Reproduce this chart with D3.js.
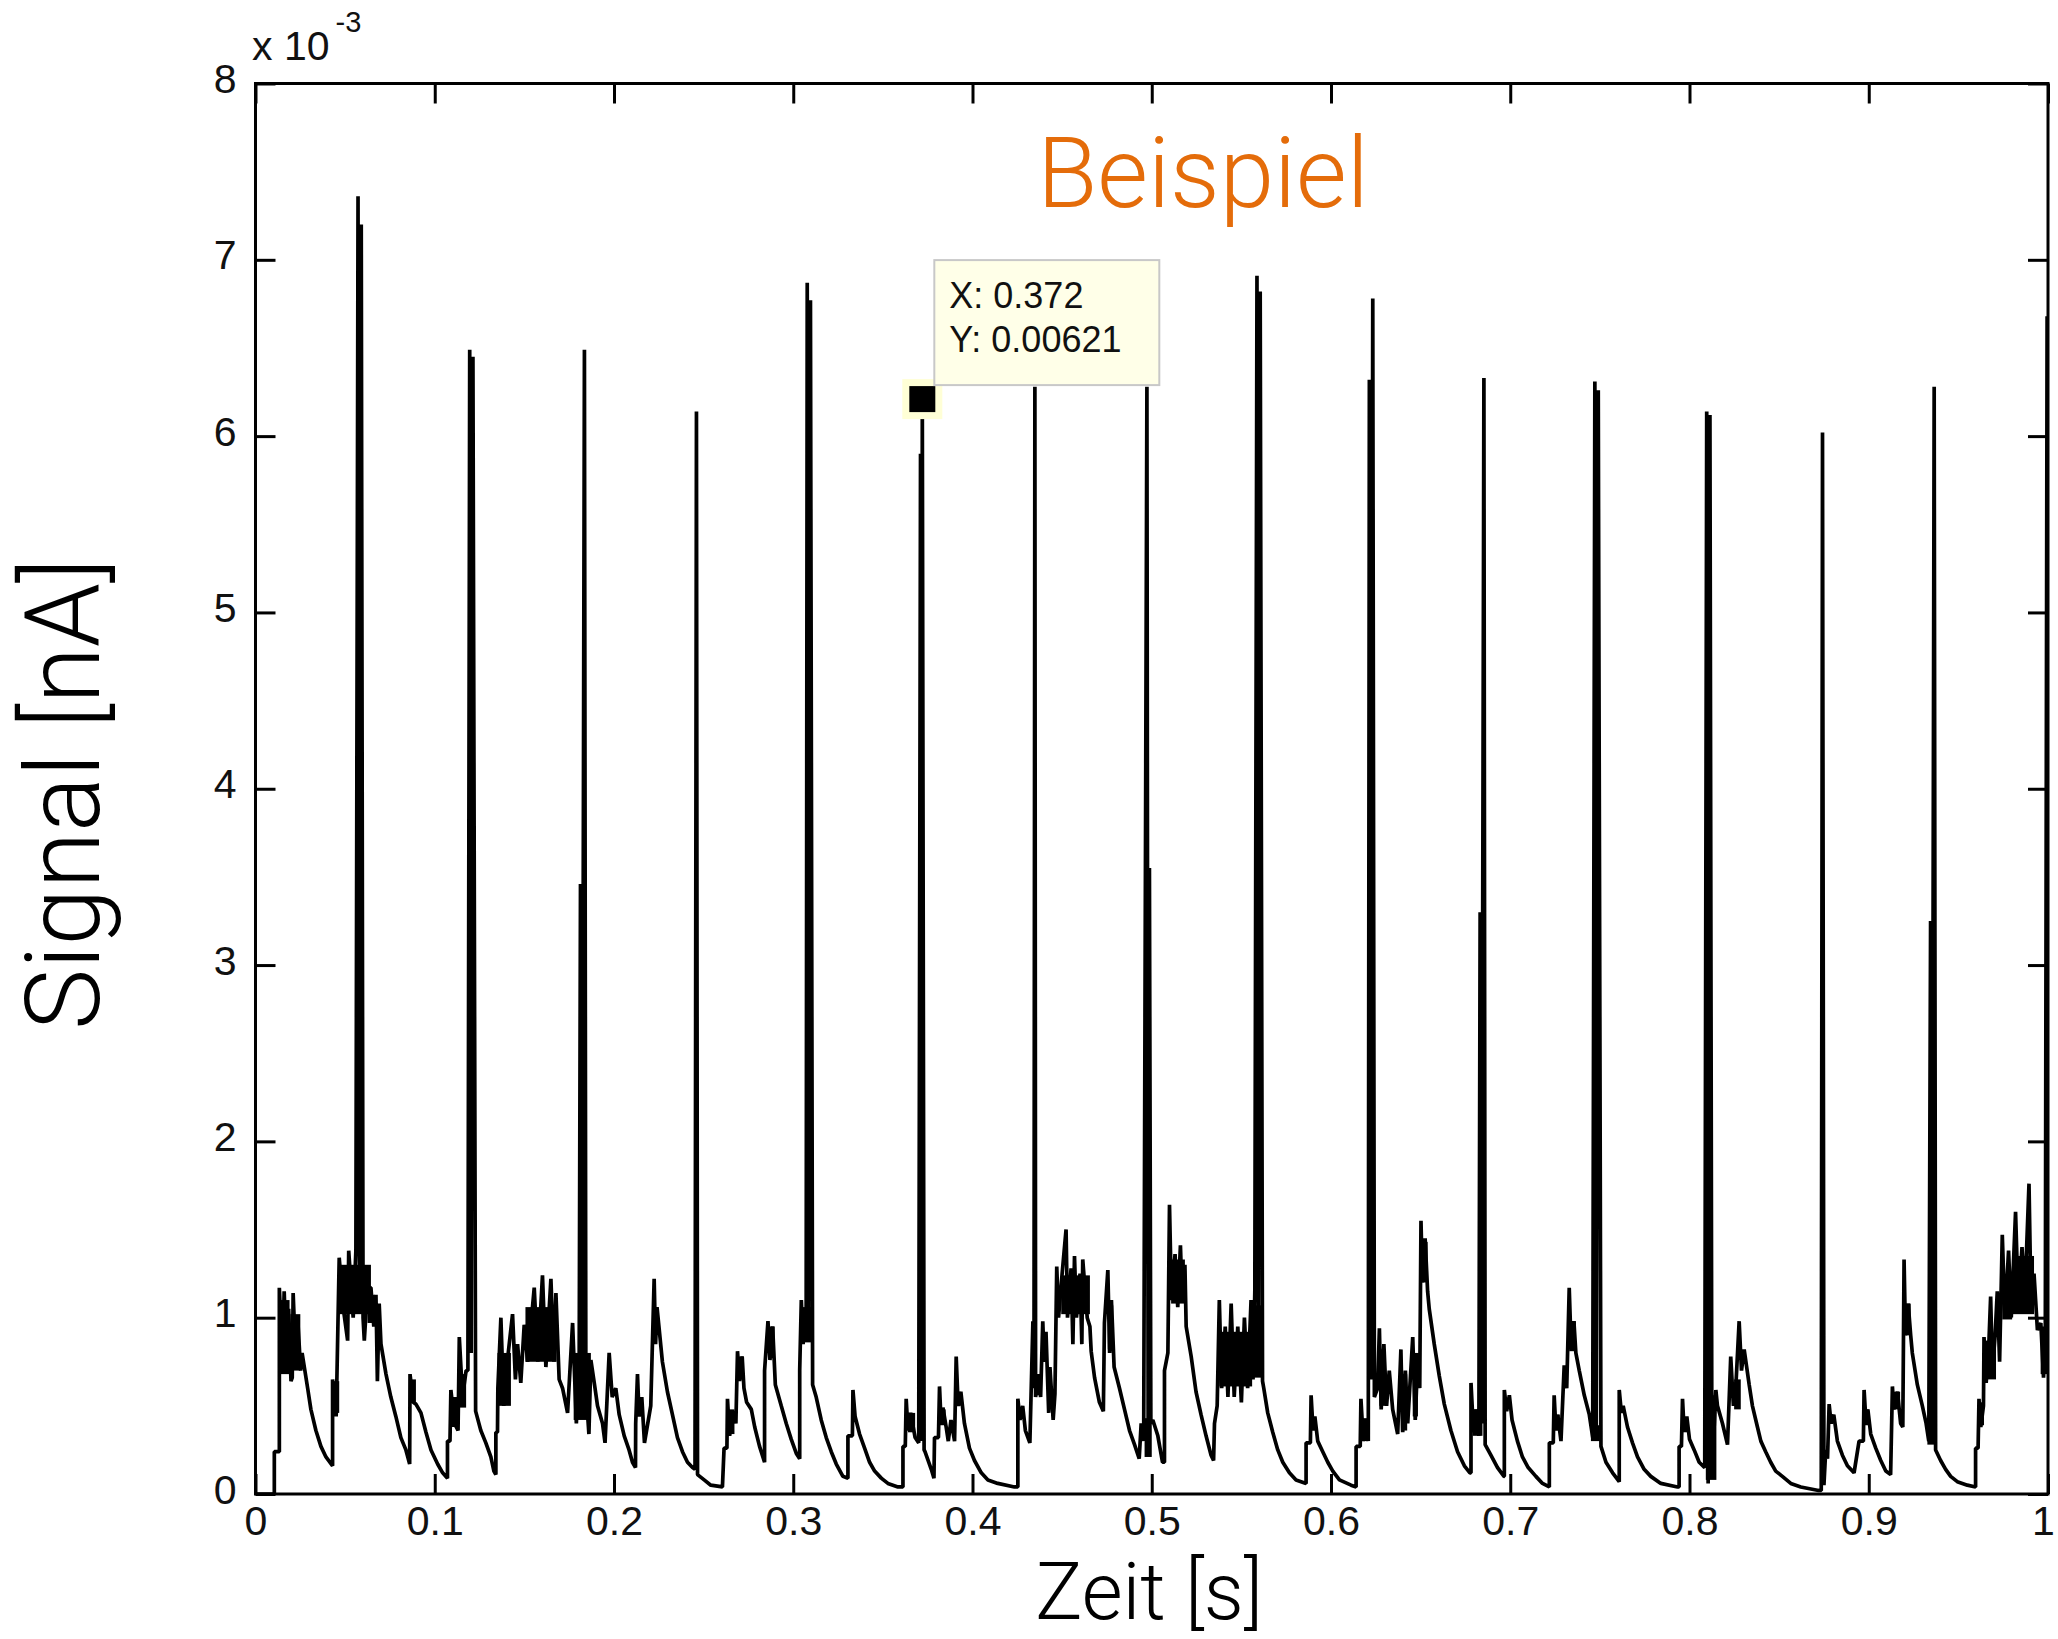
<!DOCTYPE html>
<html>
<head>
<meta charset="utf-8">
<script src="https://cdn.jsdelivr.net/npm/d3@7"></script>
<style>
  body { margin: 0; background: #fff; }
  .tick text { font-family: "Liberation Sans", Arial, sans-serif; font-size: 41px; fill: #111; }
  .tick line { stroke: #000; stroke-width: 3; }
</style>
</head>
<body>
<svg id="chart" width="2058" height="1639"></svg>
<script>
// axis ticks
const xTicks = [0, 0.1, 0.2, 0.3, 0.4, 0.5, 0.6, 0.7, 0.8, 0.9, 1];
const xTickLabels = ["0", "0.1", "0.2", "0.3", "0.4", "0.5", "0.6", "0.7", "0.8", "0.9", "1"];
const yTicks = [0, 1, 2, 3, 4, 5, 6, 7, 8];
const yTickLabels = ["0", "1", "2", "3", "4", "5", "6", "7", "8"];

// data tip
const tipX = 0.372;
const tipY = 0.00621;

// signal trace: [time s, signal x10^-3]
const trace = [
  [0, 0], [0.0105, 0], [0.0105, 0.24], [0.0133, 0.24], [0.0133, 1.17], [0.0150, 0.75], [0.0160, 1.15], [0.0175, 0.70], [0.0185, 1.05], [0.0198, 0.64], [0.0205, 0.66], [0.0210, 1.14], [0.0225, 0.75], [0.0235, 1.0], [0.0252, 0.70], [0.0260, 0.80], [0.0291, 0.60], [0.0309, 0.48], [0.0337, 0.36], [0.0365, 0.27], [0.0393, 0.21], [0.0430, 0.16],
  [0.0430, 0.65], [0.0450, 0.44], [0.0467, 1.34], [0.0490, 1.05], [0.0514, 0.87], [0.0520, 1.38], [0.0545, 1.0], [0.0560, 1.38], [0.0572, 7.36], [0.0580, 1.1], [0.0590, 7.20], [0.0600, 1.0], [0.0607, 0.87], [0.0625, 1.17], [0.0644, 1.17], [0.0660, 0.95], [0.0672, 1.13], [0.0680, 0.64], [0.0690, 1.08], [0.0700, 0.85], [0.0728, 0.68], [0.0755, 0.55], [0.0783, 0.44], [0.0811, 0.32], [0.0839, 0.25], [0.0860, 0.17],
  [0.0862, 0.68], [0.0880, 0.52], [0.0895, 0.51], [0.0923, 0.46], [0.0951, 0.35], [0.0979, 0.25], [0.1016, 0.17], [0.1044, 0.12], [0.1071, 0.09],
  [0.1071, 0.30], [0.1085, 0.30], [0.1090, 0.59], [0.1110, 0.40], [0.1130, 0.36], [0.1137, 0.89], [0.1155, 0.55], [0.1175, 0.70], [0.1185, 0.70], [0.1195, 6.49], [0.1203, 0.80], [0.1213, 6.45], [0.1228, 0.47], [0.1257, 0.36], [0.1285, 0.29], [0.1313, 0.21], [0.1330, 0.13], [0.1341, 0.11],
  [0.1341, 0.35], [0.1350, 0.35], [0.1352, 0.60], [0.1369, 1.0], [0.1385, 0.50], [0.1410, 0.80], [0.1434, 1.02], [0.1450, 0.65], [0.1462, 0.85], [0.1480, 0.63], [0.1499, 0.96], [0.1518, 0.75], [0.1555, 1.17], [0.1575, 0.75], [0.1601, 1.24], [0.1620, 0.72], [0.1648, 1.22], [0.1665, 0.75], [0.1676, 1.14], [0.1694, 0.65], [0.1713, 0.60], [0.1741, 0.46], [0.1769, 0.97], [0.1790, 0.40], [0.1806, 0.80], [0.1813, 3.46], [0.1822, 0.60], [0.1835, 6.49], [0.1843, 0.60], [0.1860, 0.34], [0.1871, 0.76], [0.1890, 0.63], [0.1908, 0.50], [0.1936, 0.40], [0.1950, 0.29], [0.1973, 0.80], [0.1990, 0.55], [0.2010, 0.60], [0.2029, 0.45], [0.2057, 0.33], [0.2084, 0.25], [0.2103, 0.18], [0.2120, 0.15],
  [0.2121, 0.40], [0.2131, 0.68], [0.2140, 0.44], [0.2155, 0.55], [0.2170, 0.29], [0.2205, 0.50], [0.2224, 1.22], [0.2232, 0.85], [0.2240, 1.06], [0.2270, 0.75], [0.2298, 0.58], [0.2326, 0.45], [0.2354, 0.32], [0.2382, 0.24], [0.2410, 0.18], [0.2438, 0.15], [0.2452, 0.14], [0.2460, 6.14], [0.2466, 0.11], [0.2503, 0.08], [0.2540, 0.05], [0.2605, 0.04],
  [0.2614, 0.26], [0.2630, 0.26], [0.2633, 0.54], [0.2645, 0.33], [0.2665, 0.47], [0.2680, 0.40], [0.2689, 0.81], [0.2700, 0.64], [0.2715, 0.78], [0.2725, 0.60], [0.2740, 0.52], [0.2766, 0.48], [0.2785, 0.38], [0.2812, 0.27], [0.2840, 0.18],
  [0.2840, 0.70], [0.2859, 0.98], [0.2870, 0.76], [0.2885, 0.95], [0.2900, 0.62], [0.2933, 0.50], [0.2961, 0.40], [0.2989, 0.31], [0.3017, 0.23], [0.3036, 0.20],
  [0.3036, 0.70], [0.3045, 1.10], [0.3055, 0.85], [0.3065, 1.05], [0.3072, 0.90], [0.3078, 6.87], [0.3086, 0.90], [0.3096, 6.77], [0.3108, 0.62], [0.3128, 0.55], [0.3156, 0.42], [0.3184, 0.32], [0.3212, 0.24], [0.3240, 0.17], [0.3277, 0.10], [0.3305, 0.09],
  [0.3305, 0.33], [0.3330, 0.33], [0.3333, 0.59], [0.3345, 0.44], [0.3370, 0.34], [0.3398, 0.26], [0.3426, 0.18], [0.3454, 0.13], [0.3491, 0.09], [0.3528, 0.06], [0.3584, 0.04], [0.3612, 0.04],
  [0.3612, 0.27], [0.3625, 0.27], [0.3630, 0.54], [0.3640, 0.36], [0.3655, 0.46], [0.3680, 0.32], [0.3700, 0.29], [0.3710, 5.90], [0.3715, 0.30], [0.3720, 6.21], [0.3730, 0.25], [0.3735, 0.24], [0.3770, 0.14], [0.3785, 0.09],
  [0.3788, 0.32], [0.3810, 0.32], [0.3816, 0.61], [0.3825, 0.40], [0.3835, 0.49], [0.3853, 0.38], [0.3865, 0.30], [0.3880, 0.42], [0.3900, 0.30], [0.3909, 0.78], [0.3920, 0.50], [0.3935, 0.58], [0.3955, 0.40], [0.3983, 0.26], [0.4011, 0.19], [0.4049, 0.12], [0.4086, 0.08], [0.4141, 0.06], [0.4234, 0.04], [0.4253, 0.04],
  [0.4253, 0.54], [0.4265, 0.42], [0.4280, 0.50], [0.4295, 0.36], [0.4320, 0.29], [0.4337, 0.98], [0.4343, 0.60], [0.4348, 6.28], [0.4352, 0.55], [0.4370, 0.68], [0.4380, 0.55], [0.4392, 0.98], [0.4400, 0.75], [0.4410, 0.92], [0.4425, 0.46], [0.4432, 0.72], [0.4450, 0.42], [0.4460, 0.57], [0.4465, 0.93], [0.4470, 1.29], [0.4480, 1.0], [0.4500, 1.25], [0.4522, 1.50], [0.4530, 1.0], [0.4550, 1.28], [0.4560, 0.85], [0.4569, 1.35], [0.4580, 1.0], [0.4600, 1.25], [0.4610, 0.85], [0.4615, 1.33], [0.4640, 1.0], [0.4655, 0.95], [0.4662, 0.81], [0.4681, 0.66], [0.4708, 0.52], [0.4730, 0.47], [0.4736, 0.97], [0.4755, 1.27], [0.4765, 0.80], [0.4775, 1.10], [0.4790, 0.72], [0.4820, 0.60], [0.4848, 0.48], [0.4876, 0.36], [0.4904, 0.28], [0.4930, 0.20], [0.4941, 0.40], [0.4955, 0.30], [0.4973, 6.28], [0.4980, 0.30], [0.4987, 3.55], [0.4995, 0.40], [0.5006, 0.42], [0.5034, 0.33], [0.5060, 0.18], [0.5071, 0.18],
  [0.5071, 0.70], [0.5090, 0.80], [0.5099, 1.64], [0.5110, 1.10], [0.5130, 1.36], [0.5145, 1.06], [0.5160, 1.41], [0.5170, 1.10], [0.5185, 1.30], [0.5192, 0.95], [0.5220, 0.78], [0.5247, 0.58], [0.5275, 0.45], [0.5303, 0.33], [0.5331, 0.22], [0.5345, 0.19],
  [0.5350, 0.40], [0.5365, 0.50], [0.5377, 1.10], [0.5390, 0.60], [0.5410, 0.95], [0.5425, 0.55], [0.5443, 1.08], [0.5460, 0.55], [0.5480, 0.95], [0.5500, 0.52], [0.5517, 1.00], [0.5535, 0.60], [0.5554, 1.10], [0.5565, 0.65], [0.5575, 1.15], [0.5587, 6.91], [0.5595, 0.70], [0.5605, 6.82], [0.5618, 0.64], [0.5625, 0.60], [0.5647, 0.46], [0.5675, 0.35], [0.5703, 0.25], [0.5731, 0.18], [0.5768, 0.12], [0.5805, 0.08], [0.5861, 0.06],
  [0.5861, 0.29], [0.5885, 0.29], [0.5889, 0.56], [0.5900, 0.36], [0.5910, 0.44], [0.5926, 0.30], [0.5954, 0.24], [0.5982, 0.18], [0.6010, 0.13], [0.6047, 0.08], [0.6112, 0.05], [0.6140, 0.04],
  [0.6140, 0.27], [0.6163, 0.27], [0.6167, 0.54], [0.6180, 0.30], [0.6195, 0.42], [0.6208, 0.30], [0.6214, 6.32], [0.6222, 0.65], [0.6233, 6.78], [0.6242, 0.55], [0.6260, 0.60], [0.6270, 0.94], [0.6280, 0.48], [0.6295, 0.85], [0.6310, 0.50], [0.6325, 0.70], [0.6344, 0.48], [0.6372, 0.34], [0.6390, 0.82], [0.6400, 0.35], [0.6415, 0.70], [0.6428, 0.40], [0.6456, 0.89], [0.6470, 0.42], [0.6485, 0.80], [0.6495, 0.60], [0.6502, 1.55], [0.6510, 1.20], [0.6525, 1.45], [0.6539, 1.15], [0.6548, 1.05], [0.6576, 0.85], [0.6604, 0.67], [0.6632, 0.51], [0.6669, 0.36], [0.6706, 0.24], [0.6744, 0.16], [0.6775, 0.12], [0.6781, 0.12],
  [0.6781, 0.63], [0.6795, 0.35], [0.6810, 0.48], [0.6825, 0.33], [0.6832, 3.30], [0.6840, 0.40], [0.6853, 6.33], [0.6860, 0.28], [0.6892, 0.22], [0.6929, 0.15], [0.6965, 0.10], [0.6967, 0.10],
  [0.6967, 0.59], [0.6980, 0.47], [0.6995, 0.56], [0.7010, 0.42], [0.7040, 0.30], [0.7068, 0.21], [0.7100, 0.15], [0.7143, 0.10], [0.7180, 0.06], [0.7218, 0.04],
  [0.7218, 0.29], [0.7240, 0.29], [0.7245, 0.56], [0.7255, 0.36], [0.7265, 0.45], [0.7283, 0.30], [0.7301, 0.73], [0.7315, 0.60], [0.7329, 1.17], [0.7340, 0.82], [0.7355, 0.98], [0.7366, 0.80], [0.7385, 0.70], [0.7413, 0.56], [0.7441, 0.45], [0.7460, 0.32], [0.7472, 6.31], [0.7480, 0.38], [0.7491, 6.26], [0.7506, 0.27], [0.7534, 0.18], [0.7571, 0.12], [0.7608, 0.07],
  [0.7608, 0.59], [0.7620, 0.46], [0.7630, 0.50], [0.7654, 0.38], [0.7682, 0.29], [0.7710, 0.21], [0.7747, 0.14], [0.7784, 0.10], [0.7840, 0.06], [0.7933, 0.04], [0.7942, 0.04],
  [0.7942, 0.27], [0.7955, 0.27], [0.7961, 0.54], [0.7970, 0.36], [0.7985, 0.44], [0.8000, 0.31], [0.8026, 0.25], [0.8054, 0.18], [0.8085, 0.15], [0.8096, 6.14], [0.8104, 0.06], [0.8114, 6.12], [0.8125, 0.10], [0.8147, 0.59], [0.8156, 0.50], [0.8184, 0.40], [0.8212, 0.28],
  [0.8230, 0.78], [0.8245, 0.50], [0.8260, 0.64], [0.8277, 0.98], [0.8290, 0.70], [0.8305, 0.82], [0.8333, 0.62], [0.8351, 0.50], [0.8379, 0.38], [0.8398, 0.30], [0.8425, 0.24], [0.8453, 0.18], [0.8481, 0.13], [0.8518, 0.10], [0.8565, 0.06], [0.8621, 0.04], [0.8720, 0.02], [0.8735, 0.02], [0.8742, 6.02], [0.8750, 0.05], [0.8760, 0.25], [0.8770, 0.20],
  [0.8779, 0.51], [0.8790, 0.40], [0.8805, 0.45], [0.8825, 0.30], [0.8853, 0.22], [0.8881, 0.16], [0.8918, 0.12], [0.8946, 0.30], [0.8970, 0.30], [0.8974, 0.59], [0.8985, 0.40], [0.8995, 0.48], [0.9011, 0.34], [0.9039, 0.26], [0.9067, 0.19], [0.9095, 0.13], [0.9122, 0.11],
  [0.9132, 0.61], [0.9140, 0.48], [0.9160, 0.58], [0.9178, 0.40], [0.9190, 0.38], [0.9197, 1.33], [0.9205, 0.90], [0.9220, 1.08], [0.9234, 0.90], [0.9243, 0.80], [0.9271, 0.62], [0.9299, 0.50], [0.9320, 0.40], [0.9335, 0.30], [0.9345, 3.25], [0.9353, 0.35], [0.9365, 6.28], [0.9373, 0.25], [0.9401, 0.19], [0.9429, 0.14], [0.9457, 0.10], [0.9494, 0.07], [0.9550, 0.05], [0.9596, 0.04],
  [0.9596, 0.26], [0.9610, 0.26], [0.9615, 0.54], [0.9625, 0.38], [0.9640, 0.50], [0.9643, 0.89], [0.9655, 0.63], [0.9670, 0.85], [0.9680, 1.12], [0.9690, 0.70], [0.9705, 0.90], [0.9717, 1.15], [0.9730, 0.75], [0.9745, 1.47], [0.9760, 1.00], [0.9780, 1.38], [0.9795, 1.00], [0.9819, 1.60], [0.9835, 1.05], [0.9855, 1.40], [0.9870, 1.10], [0.9894, 1.76], [0.9905, 1.10], [0.9922, 1.25], [0.9941, 0.93], [0.9960, 0.97], [0.9975, 0.66], [0.9985, 0.90], [0.9995, 6.68], [1.0, 0.90]
];

// dense noisy stretches that print as solid black: [t start, t end, low, high]
const bursts = [
  [0.0133, 0.0190, 0.68, 1.10], [0.0195, 0.0250, 0.70, 1.02], [0.0430, 0.0467, 0.46, 0.64], [0.0467, 0.0644, 1.02, 1.30],
  [0.0625, 0.0665, 0.97, 1.13], [0.0862, 0.0895, 0.52, 0.65], [0.1090, 0.1130, 0.38, 0.55], [0.1137, 0.1175, 0.49, 0.68],
  [0.1350, 0.1425, 0.50, 0.80], [0.1506, 0.1680, 0.75, 1.06], [0.1775, 0.1871, 0.42, 0.80], [0.2633, 0.2672, 0.34, 0.48],
  [0.2689, 0.2720, 0.65, 0.78], [0.2859, 0.2896, 0.77, 0.95], [0.3045, 0.3110, 0.86, 1.06], [0.3640, 0.3680, 0.35, 0.46],
  [0.3816, 0.3850, 0.39, 0.48], [0.3909, 0.3935, 0.50, 0.58], [0.4355, 0.4385, 0.56, 0.67], [0.4495, 0.4655, 1.02, 1.24],
  [0.4755, 0.4785, 0.82, 1.07], [0.4960, 0.5000, 0.21, 0.43], [0.5108, 0.5185, 1.08, 1.33], [0.5377, 0.5560, 0.61, 0.92],
  [0.5554, 0.5615, 0.66, 1.07], [0.6177, 0.6205, 0.30, 0.43], [0.6270, 0.6305, 0.50, 0.82], [0.6390, 0.6425, 0.36, 0.68],
  [0.6456, 0.6485, 0.44, 0.80], [0.6502, 0.6539, 1.20, 1.43], [0.6790, 0.6845, 0.33, 0.48], [0.7245, 0.7275, 0.37, 0.45],
  [0.7329, 0.7366, 0.81, 0.98], [0.7450, 0.7500, 0.30, 0.39], [0.7961, 0.7990, 0.35, 0.43], [0.8091, 0.8150, 0.08, 0.56],
  [0.8249, 0.8286, 0.48, 0.65], [0.8974, 0.9000, 0.39, 0.48], [0.9132, 0.9175, 0.48, 0.58], [0.9206, 0.9234, 0.90, 1.08],
  [0.9327, 0.9370, 0.28, 0.43], [0.9615, 0.9643, 0.39, 0.52], [0.9643, 0.9710, 0.65, 0.87], [0.9745, 0.9800, 0.99, 1.18],
  [0.9800, 0.9922, 1.02, 1.35], [0.9959, 1.0, 0.68, 0.95]
];

let svg = d3.select("#chart");

let x = d3.scaleLinear().domain([0, 1]).range([255.5, 2048]),
  y = d3.scaleLinear().domain([0, 8]).range([1494, 83.5]);

svg.append("rect").attr("width", 2058).attr("height", 1639).attr("fill", "#fff");

svg.append("clipPath")
  .attr("id", "plot-clip")
  .append("rect")
  .attr("x", x(0))
  .attr("y", y(8))
  .attr("width", x(1) - x(0))
  .attr("height", y(0) - y(8));

let plot = svg.append("g").attr("clip-path", "url(#plot-clip)");

// solid noisy blocks
plot.selectAll(".burst")
  .data(bursts)
  .enter()
  .append("rect")
  .attr("class", "burst")
  .attr("x", (d) => x(d[0]))
  .attr("y", (d) => y(d[3]))
  .attr("width", (d) => x(d[1]) - x(d[0]))
  .attr("height", (d) => y(d[2]) - y(d[3]))
  .attr("fill", "#000");

let line = d3.line()
  .x((d) => x(d[0]))
  .y((d) => y(d[1]));

plot.append("path")
  .datum(trace)
  .attr("d", line)
  .attr("fill", "none")
  .attr("stroke", "#000")
  .attr("stroke-width", 3.7)
  .attr("stroke-linejoin", "bevel");

// axes, ticks point inward on all four sides
svg.append("g")
  .attr("transform", "translate(0," + y(0) + ")")
  .call(d3.axisBottom(x).tickValues(xTicks).tickFormat((d, i) => xTickLabels[i]).tickSize(-20).tickSizeOuter(0).tickPadding(12))
  .call((g) => g.select(".domain").remove())
  .call((g) => g.selectAll(".tick text").attr("dx", (d) => (d === 1 ? -5 : 0)));

svg.append("g")
  .attr("transform", "translate(0," + y(8) + ")")
  .call(d3.axisTop(x).tickValues(xTicks).tickFormat("").tickSize(-20).tickSizeOuter(0))
  .call((g) => g.select(".domain").remove());

svg.append("g")
  .attr("transform", "translate(" + x(0) + ",0)")
  .call(d3.axisLeft(y).tickValues(yTicks).tickFormat((d, i) => yTickLabels[i]).tickSize(-20).tickSizeOuter(0).tickPadding(19))
  .call((g) => g.select(".domain").remove())
  .call((g) => g.selectAll(".tick text").attr("y", -4));

svg.append("g")
  .attr("transform", "translate(" + x(1) + ",0)")
  .call(d3.axisRight(y).tickValues(yTicks).tickFormat("").tickSize(-20).tickSizeOuter(0))
  .call((g) => g.select(".domain").remove());

svg.append("rect")
  .attr("x", x(0))
  .attr("y", y(8))
  .attr("width", x(1) - x(0))
  .attr("height", y(0) - y(8))
  .attr("fill", "none")
  .attr("stroke", "#000")
  .attr("stroke-width", 3);

// exponent label
let expo = svg.append("text")
  .attr("x", 252)
  .attr("y", 60)
  .attr("font-family", "Liberation Sans, Arial, sans-serif")
  .attr("font-size", 41)
  .attr("fill", "#111");
expo.append("tspan").text("x 10");
expo.append("tspan").attr("dx", 6).attr("dy", -28).attr("font-size", 29).text("-3");

// data tip
let mx = x(tipX), my = y(tipY * 1000);
svg.append("rect")
  .attr("x", mx - 20).attr("y", my - 20)
  .attr("width", 40).attr("height", 40)
  .attr("fill", "#ffffd6");
svg.append("rect")
  .attr("x", mx - 13).attr("y", my - 13)
  .attr("width", 26).attr("height", 26)
  .attr("fill", "#000");

let tip = svg.append("g").attr("transform", "translate(" + (mx + 12) + "," + (my - 139) + ")");
tip.append("rect")
  .attr("width", 225)
  .attr("height", 125)
  .attr("fill", "#ffffe8")
  .attr("stroke", "#c8c8c8")
  .attr("stroke-width", 2);
tip.append("text")
  .attr("x", 15).attr("y", 48)
  .attr("font-family", "Liberation Sans, Arial, sans-serif")
  .attr("font-size", 36)
  .attr("fill", "#111")
  .text("X: " + tipX);
tip.append("text")
  .attr("x", 15).attr("y", 92)
  .attr("font-family", "Liberation Sans, Arial, sans-serif")
  .attr("font-size", 36)
  .attr("fill", "#111")
  .text("Y: " + tipY);

// titles
svg.append("text")
  .attr("x", 1203)
  .attr("y", 207)
  .attr("text-anchor", "middle")
  .attr("font-family", "Roboto, Lato, sans-serif")
  .attr("font-weight", 300)
  .attr("font-size", 98)
  .attr("fill", "#e46c0a")
  .text("Beispiel");

svg.append("text")
  .attr("x", 1149)
  .attr("y", 1619)
  .attr("text-anchor", "middle")
  .attr("font-family", "Roboto, Lato, sans-serif")
  .attr("font-weight", 300)
  .attr("font-size", 79)
  .attr("fill", "#000")
  .text("Zeit [s]");

svg.append("text")
  .attr("transform", "translate(99,794) rotate(-90)")
  .attr("text-anchor", "middle")
  .attr("font-family", "Roboto, Lato, sans-serif")
  .attr("font-weight", 300)
  .attr("font-size", 103)
  .attr("fill", "#000")
  .text("Signal [nA]");
</script>
</body>
</html>
